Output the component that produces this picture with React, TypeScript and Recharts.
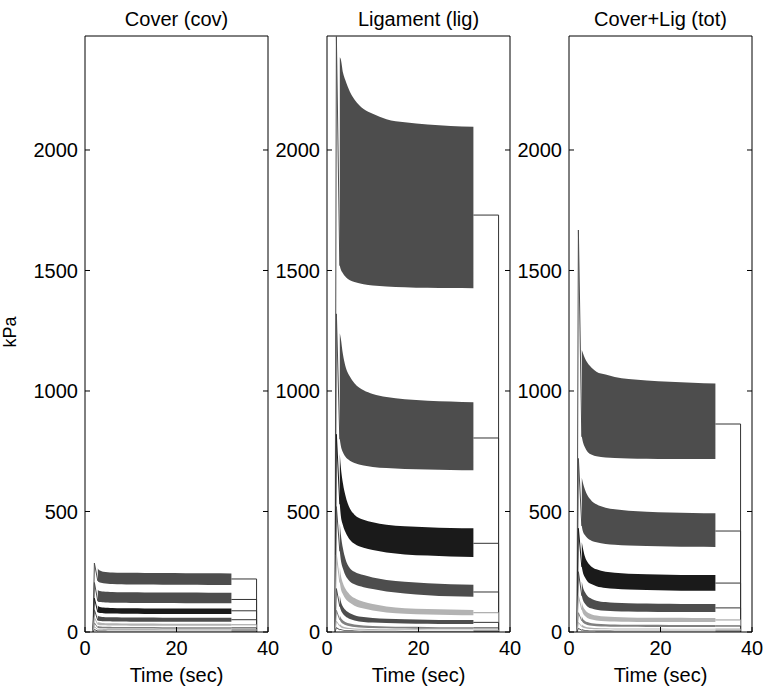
import { ComposedChart, Area, Line, XAxis, YAxis } from "recharts";

// time grid of the oscillation envelopes (sec)
const BAND_T = [2.8, 3, 3.5, 4, 5, 6, 8, 10, 13, 17, 22, 27, 32];
// start-up transient and hold/release segments
const LEAD_T = [1.75, 2.05, 2.8];
const TAIL_T = [32, 37.5, 37.5];

const X_TICKS = [0, 20, 40];
const Y_TICKS = [0, 500, 1000, 1500, 2000];
const Y_MAX = 2473;

// Cover (cov)
const COV_HI = [
  [265, 258, 253, 250, 248, 247, 246, 246, 245, 245, 244, 244, 243],
  [175, 171, 169, 168, 167, 166, 165, 165, 164, 164, 164, 163, 163],
  [110, 106, 103, 102, 101, 100, 99, 99, 98, 98, 98, 97, 97],
  [68, 65, 63, 62, 61, 61, 60, 60, 60, 59, 59, 59, 59],
  [42, 40, 38, 37, 36, 36, 35, 35, 35, 34, 34, 34, 34],
  [26, 24, 23, 22, 22, 21, 21, 21, 21, 20, 20, 20, 20],
  [15, 14, 13, 13, 12, 12, 12, 12, 12, 11, 11, 11, 11],
  [7, 6, 6, 6, 5, 5, 5, 5, 5, 5, 5, 5, 5],
];
const COV_LO = [
  [212, 207, 204, 202, 200, 199, 198, 197, 197, 196, 196, 195, 195],
  [128, 125, 124, 123, 122, 121, 121, 120, 120, 120, 119, 119, 119],
  [82, 80, 79, 78, 77, 77, 76, 76, 75, 75, 75, 75, 75],
  [48, 47, 46, 45, 45, 44, 44, 43, 43, 43, 43, 43, 43],
  [31, 29, 28, 28, 27, 27, 27, 26, 26, 26, 26, 26, 26],
  [18, 17, 16, 16, 15, 15, 15, 15, 15, 14, 14, 14, 14],
  [10, 9, 9, 8, 8, 8, 8, 8, 8, 8, 8, 8, 8],
  [4, 3, 3, 3, 3, 3, 3, 3, 3, 3, 3, 3, 3],
];
const COV_TAIL = [220, 135, 88, 51, 30, 17, 10, 4];
const COV_PEAK = [286, 205, 140, 92, 60, 38, 22, 10];
const COV_COLORS = ["#4d4d4d", "#4d4d4d", "#1a1a1a", "#4d4d4d", "#b3b3b3", "#808080", "#b3b3b3", "#4d4d4d"];

// Ligament (lig)
const LIG_HI = [
  [2385, 2378, 2320, 2290, 2242, 2210, 2170, 2150, 2128, 2115, 2106, 2100, 2096],
  [1240, 1220, 1150, 1105, 1060, 1032, 1003, 988, 975, 966, 960, 956, 953],
  [740, 690, 615, 568, 512, 487, 466, 455, 445, 439, 435, 432, 430],
  [450, 410, 345, 305, 265, 250, 236, 226, 216, 208, 202, 198, 196],
  [270, 240, 202, 180, 155, 141, 126, 116, 106, 99, 95, 93, 91],
  [150, 130, 105, 92, 78, 70, 62, 58, 55, 53, 51, 50, 50],
  [70, 60, 48, 42, 35, 31, 27, 25, 23, 22, 21, 20, 20],
  [34, 29, 23, 20, 17, 15, 13, 12, 11, 11, 10, 10, 10],
  [14, 12, 9, 8, 7, 6, 5, 5, 5, 4, 4, 4, 4],
];
const LIG_LO = [
  [1520, 1505, 1488, 1475, 1460, 1452, 1443, 1438, 1434, 1431, 1428, 1427, 1426],
  [800, 775, 745, 728, 711, 701, 691, 685, 680, 676, 674, 672, 671],
  [530, 485, 442, 416, 383, 366, 350, 340, 330, 322, 317, 313, 311],
  [335, 302, 262, 236, 210, 198, 186, 178, 168, 160, 153, 148, 146],
  [205, 182, 156, 139, 121, 109, 97, 89, 81, 76, 73, 71, 70],
  [105, 92, 75, 65, 54, 48, 42, 39, 37, 35, 34, 33, 33],
  [50, 43, 34, 29, 24, 21, 18, 17, 16, 15, 14, 14, 14],
  [24, 20, 16, 14, 12, 10, 9, 8, 8, 7, 7, 7, 7],
  [9, 8, 6, 5, 4, 4, 3, 3, 3, 2, 2, 2, 2],
];
const LIG_TAIL = [1730, 805, 368, 166, 80, 40, 17, 8, 3];
const LIG_PEAK = [2470, 1320, 820, 520, 320, 180, 90, 45, 18];
const LIG_COLORS = ["#4d4d4d", "#4d4d4d", "#1a1a1a", "#4d4d4d", "#b3b3b3", "#4d4d4d", "#808080", "#b3b3b3", "#4d4d4d"];

// Cover+Lig (tot)
const TOT_HI = [
  [1170, 1160, 1135, 1118, 1095, 1080, 1068, 1058, 1050, 1044, 1038, 1034, 1031],
  [640, 622, 590, 568, 543, 530, 516, 509, 503, 499, 496, 494, 493],
  [372, 352, 312, 291, 270, 260, 250, 246, 242, 240, 238, 237, 237],
  [210, 190, 165, 150, 137, 130, 124, 121, 119, 118, 117, 116, 116],
  [125, 110, 92, 82, 73, 68, 64, 62, 60, 59, 59, 58, 58],
  [65, 56, 46, 41, 36, 34, 32, 31, 30, 30, 29, 29, 29],
  [32, 28, 23, 20, 18, 17, 16, 15, 15, 15, 14, 14, 14],
  [12, 10, 8, 7, 6, 6, 6, 5, 5, 5, 5, 5, 5],
];
const TOT_LO = [
  [810, 792, 766, 749, 735, 729, 724, 722, 720, 719, 718, 718, 718],
  [440, 420, 401, 390, 378, 372, 365, 362, 359, 357, 355, 354, 353],
  [270, 250, 226, 211, 198, 190, 183, 179, 176, 174, 172, 171, 171],
  [150, 135, 117, 106, 97, 92, 88, 86, 85, 84, 83, 83, 83],
  [92, 80, 66, 58, 52, 48, 45, 44, 43, 42, 41, 41, 41],
  [46, 40, 33, 29, 26, 24, 23, 22, 22, 21, 21, 21, 21],
  [22, 19, 16, 14, 12, 11, 11, 10, 10, 10, 10, 10, 10],
  [7, 6, 5, 4, 4, 3, 3, 3, 3, 3, 3, 3, 3],
];
const TOT_TAIL = [863, 419, 203, 100, 50, 25, 12, 4];
const TOT_PEAK = [1668, 720, 430, 250, 150, 80, 40, 15];
const TOT_COLORS = ["#4d4d4d", "#4d4d4d", "#1a1a1a", "#4d4d4d", "#b3b3b3", "#808080", "#b3b3b3", "#4d4d4d"];

const FONT = "'Liberation Sans', Arial, Helvetica, sans-serif";
const W = 768;
const H = 692;

type PanelProps = {
  title: string;
  hi: number[][];
  lo: number[][];
  tail: number[];
  peak: number[];
  colors: string[];
  left: number;
  right: number;
};

const blank = () => "";

function Panel({ title, hi, lo, tail, peak, colors, left, right }: PanelProps) {
  const bands = hi.map((h, i) => ({
    color: colors[i],
    area: BAND_T.map((t, j) => ({ t, r: [lo[i][j], h[j]] })),
    lead: LEAD_T.map((t, j) => ({ t, v: [0, peak[i], lo[i][0]][j] })),
    tail: TAIL_T.map((t, j) => ({ t, v: [tail[i], tail[i], 0][j] })),
  }));
  const tailColor = (c: string) => (c === "#b3b3b3" ? "#9a9a9a" : "#333333");

  return (
    <>
      <div
        style={{
          position: "absolute",
          left: (left + right) / 2 - 120,
          width: 240,
          top: 9,
          textAlign: "center",
          fontSize: 20,
          lineHeight: "20px",
          fontFamily: FONT,
          color: "#000",
        }}
      >
        {title}
      </div>
      <div style={{ position: "absolute", left: 0, top: 0 }}>
        <ComposedChart
          width={W}
          height={H}
          margin={{ top: 16, bottom: 0, left: left - 60, right: W - right - 10 }}
        >
          <XAxis
            xAxisId="b"
            orientation="bottom"
            type="number"
            dataKey="t"
            domain={[0, 40]}
            ticks={X_TICKS}
            allowDataOverflow
            height={60}
            tickSize={-5}
            tickMargin={14}
            stroke="#000"
            tick={{ fontSize: 20, fill: "#000", fontFamily: FONT }}
            label={{ value: "Time (sec)", position: "insideBottom", offset: 10, fontSize: 20, fill: "#000", fontFamily: FONT }}
          />
          <XAxis
            xAxisId="t"
            orientation="top"
            type="number"
            domain={[0, 40]}
            ticks={X_TICKS}
            allowDataOverflow
            height={20}
            tickSize={-5}
            stroke="#000"
            tickFormatter={blank}
            tick={{ fontSize: 1 }}
          />
          <YAxis
            yAxisId="l"
            type="number"
            domain={[0, Y_MAX]}
            ticks={Y_TICKS}
            allowDataOverflow
            width={60}
            tickSize={-5}
            tickMargin={12}
            stroke="#000"
            tick={{ fontSize: 20, fill: "#000", fontFamily: FONT }}
          />
          <YAxis
            yAxisId="r"
            orientation="right"
            type="number"
            domain={[0, Y_MAX]}
            ticks={Y_TICKS}
            allowDataOverflow
            width={10}
            tickSize={-5}
            stroke="#000"
            tickFormatter={blank}
            tick={{ fontSize: 1 }}
          />
          {bands.map((b, i) => (
            <Area
              key={`a${i}`}
              xAxisId="b"
              yAxisId="l"
              data={b.area}
              dataKey="r"
              type="monotone"
              stroke="none"
              fill={b.color}
              fillOpacity={1}
              dot={false}
              activeDot={false}
              isAnimationActive={false}
            />
          ))}
          {bands.map((b, i) => (
            <Line
              key={`l${i}`}
              xAxisId="b"
              yAxisId="l"
              data={b.lead}
              dataKey="v"
              type="linear"
              stroke={b.color}
              strokeWidth={1}
              dot={false}
              activeDot={false}
              isAnimationActive={false}
            />
          ))}
          {bands.map((b, i) => (
            <Line
              key={`t${i}`}
              xAxisId="b"
              yAxisId="l"
              data={b.tail}
              dataKey="v"
              type="linear"
              stroke={tailColor(b.color)}
              strokeWidth={1}
              dot={false}
              activeDot={false}
              isAnimationActive={false}
            />
          ))}
        </ComposedChart>
      </div>
    </>
  );
}

export default function App() {
  return (
    <div style={{ position: "absolute", left: 0, top: 0, width: W, height: H, background: "#fff" }}>
      <Panel title="Cover (cov)" hi={COV_HI} lo={COV_LO} tail={COV_TAIL} peak={COV_PEAK} colors={COV_COLORS} left={85} right={268} />
      <Panel title="Ligament (lig)" hi={LIG_HI} lo={LIG_LO} tail={LIG_TAIL} peak={LIG_PEAK} colors={LIG_COLORS} left={327} right={510} />
      <Panel title="Cover+Lig (tot)" hi={TOT_HI} lo={TOT_LO} tail={TOT_TAIL} peak={TOT_PEAK} colors={TOT_COLORS} left={569} right={752} />
      <div
        style={{
          position: "absolute",
          left: -20,
          top: 322,
          width: 60,
          textAlign: "center",
          fontSize: 18,
          lineHeight: "20px",
          fontFamily: FONT,
          transform: "rotate(-90deg)",
        }}
      >
        kPa
      </div>
    </div>
  );
}
